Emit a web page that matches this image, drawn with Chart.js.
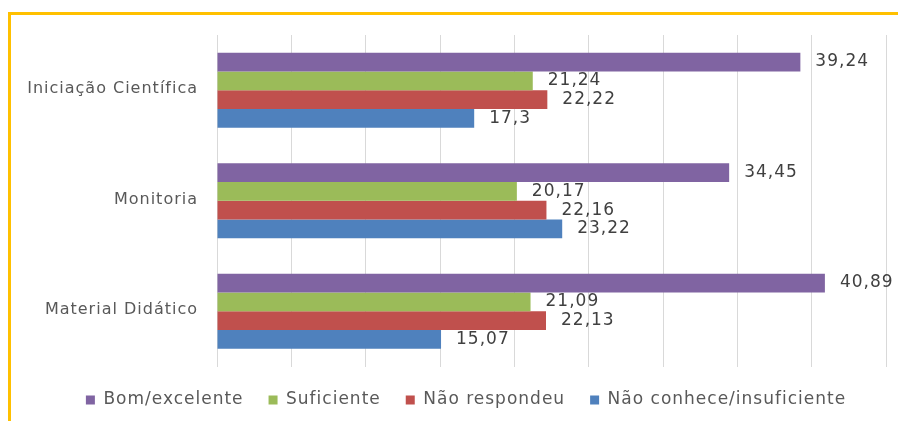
<!DOCTYPE html>
<html><head><meta charset="utf-8">
<script src="https://cdn.jsdelivr.net/npm/chart.js@4/dist/chart.umd.min.js"></script>
<style>
html,body{margin:0;padding:0;background:#fff;}
#wrap{position:relative;width:898px;height:421px;overflow:hidden;}
#frame{position:absolute;left:8px;top:12px;width:900px;height:420px;border-left:3px solid #FFC000;border-top:3px solid #FFC000;box-sizing:border-box;pointer-events:none}
canvas{position:absolute;left:0;top:0}
</style></head>
<body><div id="wrap"><canvas id="c" width="898" height="421"></canvas><div id="frame"></div></div>
<script>
const categories = ['Iniciação Científica', 'Monitoria', 'Material Didático'];
const seriesNames = ['Bom/excelente', 'Suficiente', 'Não respondeu', 'Não conhece/insuficiente'];
const bomExcelente = [39.24, 34.45, 40.89];
const suficiente = [21.24, 20.17, 21.09];
const naoRespondeu = [22.22, 22.16, 22.13];
const naoConhece = [17.3, 23.22, 15.07];
const xMin = 0, xMax = 45, xStep = 5;

const colors = ['#8064A2', '#9BBB59', '#C0504D', '#4F81BD'];
const seriesValues = [bomExcelente, suficiente, naoRespondeu, naoConhece];
const FONT = 'DejaVu Sans';

const spacing = {
  id: 'spacing',
  beforeUpdate(chart) { chart.ctx.letterSpacing = '1px'; },
  beforeDraw(chart) { chart.ctx.letterSpacing = '1px'; }
};

const legendShift = {
  id: 'legendShift',
  afterLayout(chart) {
    const lg = chart.legend;
    if (lg) { lg.left += 23; lg.right += 23; }
  }
};

const valueLabels = {
  id: 'valueLabels',
  afterDatasetsDraw(chart) {
    const ctx = chart.ctx;
    ctx.save();
    ctx.font = '17px "' + FONT + '"';
    ctx.fillStyle = '#404040';
    ctx.textBaseline = 'middle';
    ctx.textAlign = 'left';
    chart.data.datasets.forEach((ds, i) => {
      const meta = chart.getDatasetMeta(i);
      meta.data.forEach((el, j) => {
        ctx.fillText(String(ds.data[j]).replace('.', ','), el.x + 15, el.y);
      });
    });
    ctx.restore();
  }
};

new Chart(document.getElementById('c'), {
  type: 'bar',
  data: {
    labels: categories,
    datasets: seriesNames.map((n, i) => ({
      label: n,
      data: seriesValues[i],
      backgroundColor: colors[i],
      borderWidth: 0,
      categoryPercentage: 0.68,
      barPercentage: 1.0
    }))
  },
  options: {
    responsive: false,
    animation: false,
    indexAxis: 'y',
    layout: { padding: { top: 35, right: 12, left: 0, bottom: 2.5 } },
    scales: {
      x: {
        min: xMin, max: xMax,
        ticks: { display: false, stepSize: xStep },
        grid: { color: '#d9d9d9', drawTicks: false, lineWidth: 1 },
        border: { display: false }
      },
      y: {
        grid: { display: false, drawTicks: false },
        border: { display: false },
        ticks: { color: '#595959', font: { family: FONT, size: 16 }, padding: 19, labelOffset: -1 },
        afterFit(s) { s.width = 217; }
      }
    },
    plugins: {
      legend: {
        position: 'bottom',
        labels: {
          boxWidth: 9, boxHeight: 9, padding: 25,
          color: '#595959',
          font: { family: FONT, size: 17 }
        }
      },
      tooltip: { enabled: false }
    }
  },
  plugins: [spacing, legendShift, valueLabels]
});
</script>
</body></html>
